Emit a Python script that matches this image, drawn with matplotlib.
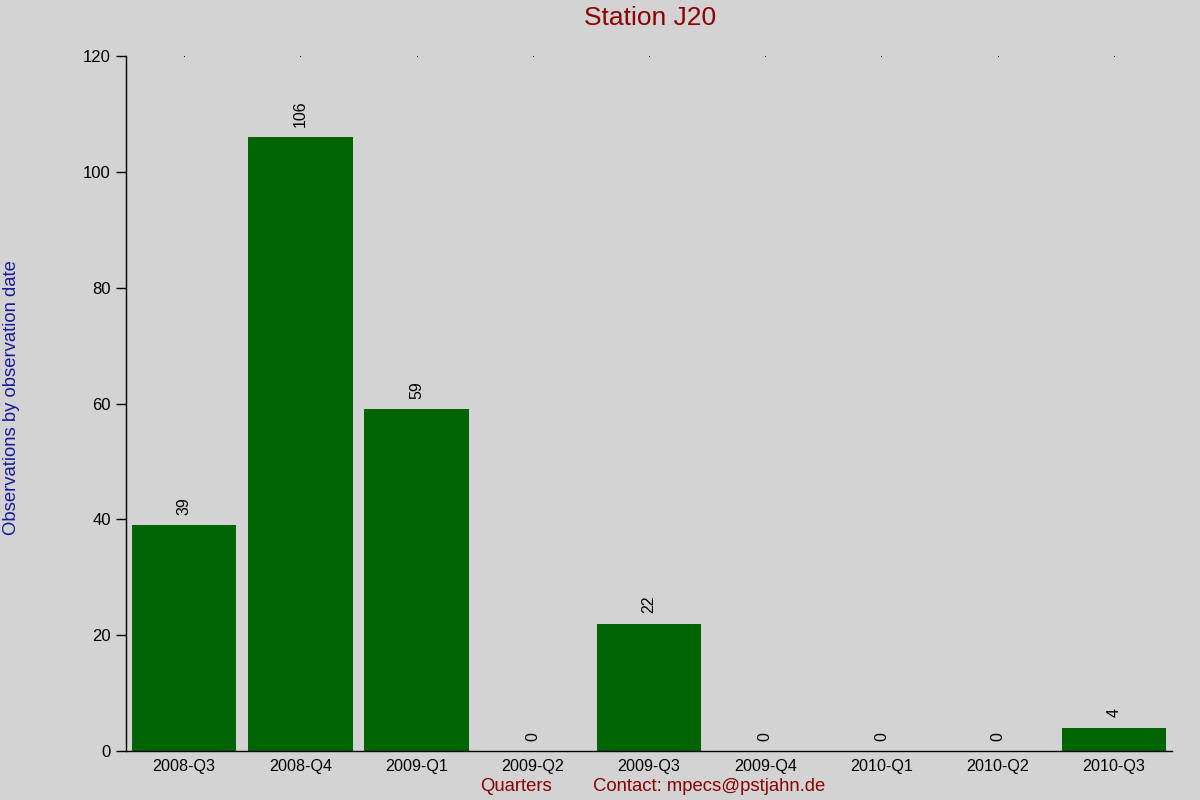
import matplotlib
matplotlib.use("Agg")
import matplotlib.pyplot as plt
import numpy as np

categories = ["2008-Q3", "2008-Q4", "2009-Q1", "2009-Q2", "2009-Q3",
              "2009-Q4", "2010-Q1", "2010-Q2", "2010-Q3"]
values = [39, 106, 59, 0, 22, 0, 0, 0, 4]
yticks = [0, 20, 40, 60, 80, 100, 120]

plt.rcParams['font.family'] = ['Liberation Sans', 'DejaVu Sans']

bg = '#D3D3D3'
fig = plt.figure(figsize=(12, 8), dpi=100, facecolor=bg)
ax = fig.add_axes([0.105, 0.06125, 0.8717, 0.86875], facecolor=bg)

x = np.arange(len(categories))
ax.bar(x, values, width=0.9, color='#006400', linewidth=0)
for xi, v in zip(x, values):
    ax.annotate(str(v), (xi, v), xytext=(0, 7.5), textcoords='offset points',
                rotation=90, ha='center', va='bottom', fontsize=11.5, color='black')

ax.set_xlim(-0.5, len(categories) - 0.5)
ax.set_ylim(0, 120)
ax.set_yticks(yticks)
ax.set_xticks(x)
ax.set_xticklabels(categories, fontsize=11.6)
ax.tick_params(axis='y', labelsize=12, length=7, direction='out', width=1, pad=4)
ax.tick_params(axis='x', length=0, pad=6)

for s in ['top', 'right']:
    ax.spines[s].set_visible(False)
ax.spines['left'].set_linewidth(1)
ax.spines['bottom'].set_linewidth(1)

# tiny dots at top for each category
for xi in x:
    ax.plot([xi], [120], marker='s', markersize=0.6, markeredgewidth=0,
            color='black', clip_on=False)

fig.text(0.5417, 0.978, "Station J20", ha='center', va='center',
         fontsize=19, color='#8B0000')
fig.text(0.43, 0.0165, "Quarters", ha='center', va='center',
         fontsize=13.3, color='#8B0000')
fig.text(0.591, 0.0165, "Contact: mpecs@pstjahn.de", ha='center', va='center',
         fontsize=13.3, color='#8B0000')
fig.text(0.0095, 0.5036, "Observations by observation date", ha='center', va='center',
         rotation=90, fontsize=13.3, color='#1A1A9A')

fig.savefig("out.png", dpi=100, facecolor=bg)
